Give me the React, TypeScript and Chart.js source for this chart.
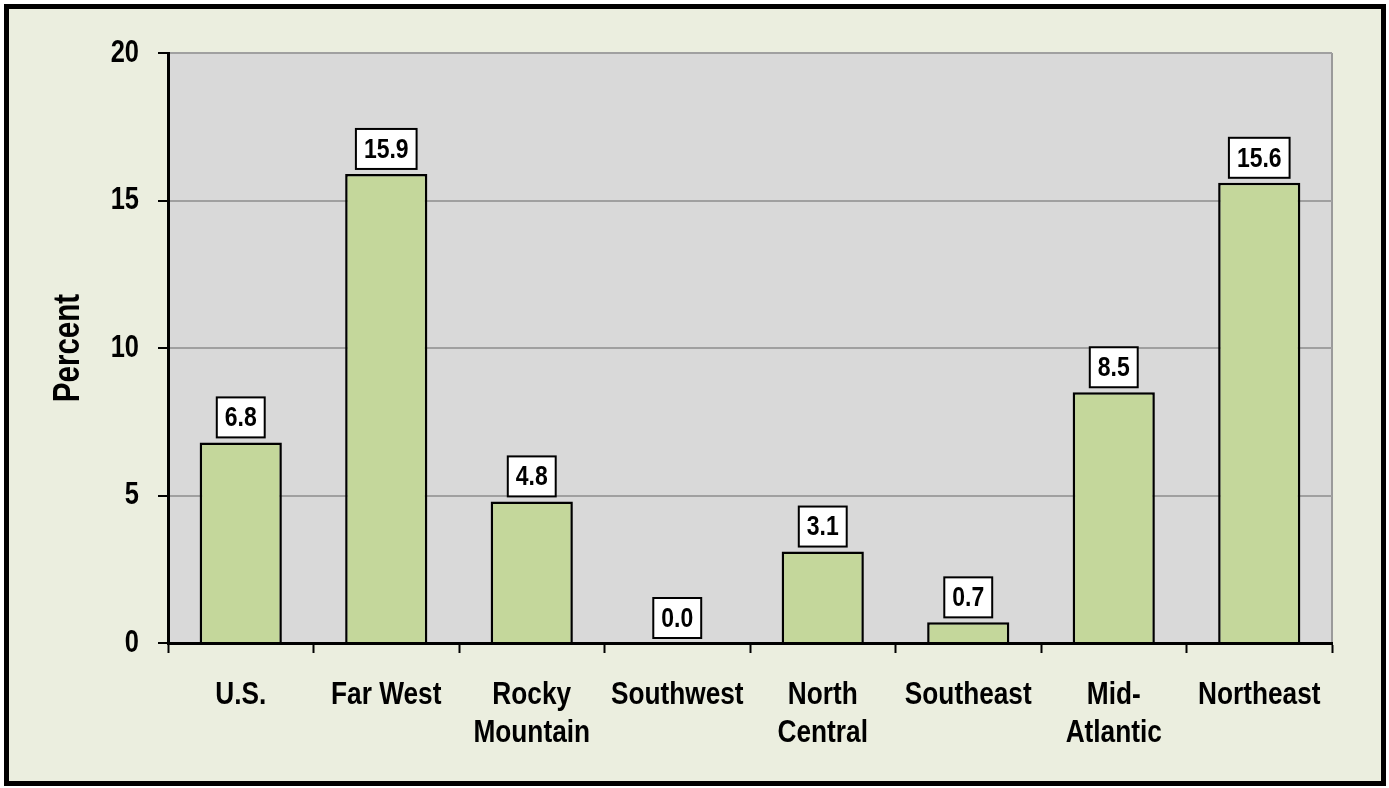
import React, { useEffect, useRef } from "react";
import { Chart, registerables } from "chart.js";

Chart.register(...registerables);

const categories: (string | string[])[] = [
  "U.S.",
  "Far West",
  ["Rocky", "Mountain"],
  "Southwest",
  ["North", "Central"],
  "Southeast",
  ["Mid-", "Atlantic"],
  "Northeast",
];
const values: number[] = [6.8, 15.9, 4.8, 0.0, 3.1, 0.7, 8.5, 15.6];
const yTicks: number[] = [0, 5, 10, 15, 20];
const yTitle = "Percent";

const FONT = "'Liberation Sans', Arial, sans-serif";
const SX = 0.82; // horizontal condense, like a narrow face

function condense(ctx: any) {
  if (ctx.__condensed) return;
  ctx.__condensed = true;
  const origFill = ctx.fillText.bind(ctx);
  const origMeasure = ctx.measureText.bind(ctx);
  ctx.fillText = (text: string, x: number, y: number, maxWidth?: number) => {
    ctx.save();
    ctx.translate(x, y);
    ctx.scale(SX, 1);
    if (maxWidth !== undefined) origFill(text, 0, 0, maxWidth / SX);
    else origFill(text, 0, 0);
    ctx.restore();
  };
  ctx.measureText = (text: string) => {
    const m = origMeasure(text);
    return {
      width: m.width * SX,
      actualBoundingBoxAscent: m.actualBoundingBoxAscent,
      actualBoundingBoxDescent: m.actualBoundingBoxDescent,
      actualBoundingBoxLeft: m.actualBoundingBoxLeft * SX,
      actualBoundingBoxRight: m.actualBoundingBoxRight * SX,
    };
  };
}

const framePlugin = {
  id: "frame",
  beforeDraw(chart: any) {
    const { ctx, width, height, chartArea } = chart;
    ctx.save();
    ctx.fillStyle = "#ffffff";
    ctx.fillRect(0, 0, width, height);
    ctx.fillStyle = "#EBEEDF";
    ctx.fillRect(4, 4, width - 8, height - 7);
    ctx.strokeStyle = "#000000";
    ctx.lineWidth = 5;
    ctx.strokeRect(6.5, 6.5, width - 12, height - 11);
    ctx.fillStyle = "#D9D9D9";
    ctx.fillRect(chartArea.left, chartArea.top, chartArea.right - chartArea.left, chartArea.bottom - chartArea.top);
    ctx.strokeStyle = "#9A9A9A";
    ctx.lineWidth = 2;
    ctx.beginPath();
    ctx.moveTo(chartArea.right, chartArea.top);
    ctx.lineTo(chartArea.right, chartArea.bottom);
    ctx.stroke();
    ctx.restore();
  },
};

const labelPlugin = {
  id: "boxLabels",
  afterDatasetsDraw(chart: any) {
    const { ctx } = chart;
    const meta = chart.getDatasetMeta(0);
    const data = chart.data.datasets[0].data as number[];
    ctx.save();
    ctx.font = `bold 28px ${FONT}`;
    ctx.textAlign = "center";
    ctx.textBaseline = "middle";
    meta.data.forEach((el: any, i: number) => {
      const txt = data[i].toFixed(1);
      const w = ctx.measureText(txt).width + 16;
      const h = 40;
      const x = el.x;
      const bottom = el.y - 5;
      ctx.fillStyle = "#ffffff";
      ctx.fillRect(x - w / 2, bottom - h, w, h);
      ctx.strokeStyle = "#000000";
      ctx.lineWidth = 2;
      ctx.strokeRect(x - w / 2, bottom - h, w, h);
      ctx.fillStyle = "#000000";
      ctx.fillText(txt, x, bottom - h / 2 + 1);
    });
    ctx.restore();
  },
};

export default function App() {
  const ref = useRef<HTMLCanvasElement>(null);
  useEffect(() => {
    if (!ref.current) return;
    const c2d = ref.current.getContext("2d");
    condense(c2d);
    const chart = new Chart(ref.current, {
      type: "bar",
      data: {
        labels: categories,
        datasets: [
          {
            data: values,
            backgroundColor: "#C4D79B",
            borderColor: "#000000",
            borderWidth: 2.5,
            barPercentage: 0.565,
            categoryPercentage: 1.0,
          },
        ],
      },
      options: {
        responsive: false,
        animation: false,
        layout: { padding: { left: 0, top: 53, right: 57, bottom: 0 } },
        plugins: { legend: { display: false }, tooltip: { enabled: false } },
        scales: {
          x: {
            grid: {
              display: true,
              drawOnChartArea: false,
              drawTicks: true,
              tickLength: 10,
              tickColor: "#000000",
              tickWidth: 2,
              offset: true,
            },
            border: { color: "#000000", width: 3 },
            ticks: {
              color: "#000000",
              font: { family: FONT, size: 32, weight: "bold", lineHeight: 1.16 },
              padding: 24,
              maxRotation: 0,
              autoSkip: false,
            },
            afterFit(scale: any) {
              scale.height = 145;
            },
          },
          y: {
            min: 0,
            max: 20,
            afterBuildTicks(scale: any) {
              scale.ticks = yTicks.map((v) => ({ value: v }));
            },
            grid: {
              color: "#A0A0A0",
              lineWidth: 2,
              tickColor: "#000000",
              tickWidth: 2,
              tickLength: 10,
            },
            border: { color: "#000000", width: 3 },
            ticks: {
              color: "#000000",
              font: { family: FONT, size: 31, weight: "bold" },
              padding: 19,
            },
            title: {
              display: true,
              text: yTitle,
              color: "#000000",
              font: { family: FONT, size: 36, weight: "bold" },
              padding: { top: 47, bottom: 0 },
            },
            afterFit(scale: any) {
              scale.width = 168;
            },
          },
        },
      },
      plugins: [framePlugin, labelPlugin],
    });
    return () => chart.destroy();
  }, []);
  return (
    <div style={{ position: "absolute", left: 0, top: 0, width: 1389, height: 788 }}>
      <canvas ref={ref} width={1389} height={788} style={{ display: "block" }} />
    </div>
  );
}
